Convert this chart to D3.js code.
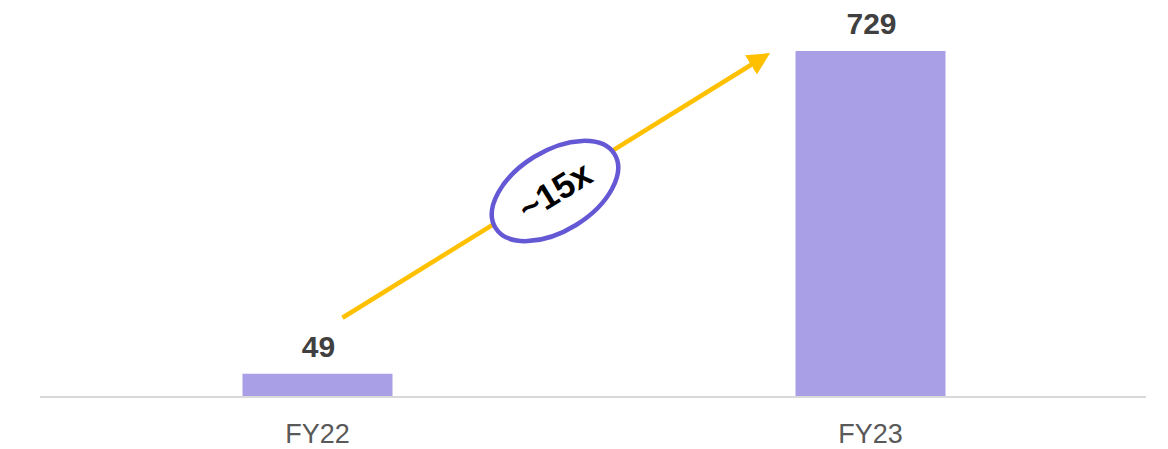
<!doctype html>
<html lang="en">
  <head>
    <meta charset="utf-8">
    <title>FY22 vs FY23</title>
    <script src="https://d3js.org/d3.v7.min.js"></script>
    <style>
      body { margin: 0; background: #fff; }
      text { font-family: "Liberation Sans", Arial, sans-serif; }
    </style>
  </head>
  <body>
    <div id="chart"></div>
    <script type="text/javascript">
    // Data
    var years = ['FY22', 'FY23'];
    var values = [49, 729];
    var growthLabel = '~15x';

    var width = 1168, height = 449;
    var baseline = 397;

    var svg = d3.select('#chart')
        .append('svg')
        .attr('width', width)
        .attr('height', height);

    // Scales
    var scale_x = d3.scalePoint().domain(years).range([41, 1147]).padding(0.5);
    var scale_y = d3.scaleLinear().domain([0, 729]).range([baseline, 51]);
    var barWidth = 150;

    // Bars
    svg.append('g').selectAll('rect')
        .data(years)
        .enter().append('rect')
        .attr('x', function(d) { return scale_x(d) - barWidth / 2; })
        .attr('y', function(d, i) { return scale_y(values[i]); })
        .attr('width', barWidth)
        .attr('height', function(d, i) { return baseline - scale_y(values[i]); })
        .attr('fill', '#a89fe6');

    // Axis line
    svg.append('line')
        .attr('x1', 40).attr('x2', 1146)
        .attr('y1', baseline).attr('y2', baseline)
        .attr('stroke', '#d9d9d9')
        .attr('stroke-width', 2);

    // Category labels
    svg.append('g').selectAll('text')
        .data(years)
        .enter().append('text')
        .attr('x', function(d) { return scale_x(d); })
        .attr('y', 443)
        .attr('text-anchor', 'middle')
        .attr('fill', '#595959')
        .style('font-size', '27px')
        .text(function(d) { return d; });

    // Value labels
    svg.append('g').selectAll('text')
        .data(years)
        .enter().append('text')
        .attr('x', function(d) { return scale_x(d) + 1; })
        .attr('y', function(d, i) { return scale_y(values[i]) - 17; })
        .attr('text-anchor', 'middle')
        .attr('fill', '#404040')
        .style('font-size', '30px')
        .style('font-weight', 'bold')
        .text(function(d, i) { return values[i]; });

    // Growth arrow
    var defs = svg.append('defs');
    defs.append('marker')
        .attr('id', 'arrowhead')
        .attr('viewBox', '0 0 10 10')
        .attr('refX', 5).attr('refY', 5)
        .attr('markerWidth', 5).attr('markerHeight', 5)
        .attr('orient', 'auto')
        .append('path')
        .attr('d', 'M0,0 L10,5 L0,10 z')
        .attr('fill', '#ffc000');

    var x0 = scale_x('FY22') + 25, y0 = scale_y(values[0]) - 56;
    var x1 = scale_x('FY23') - 110, y1 = scale_y(values[1]) + 8;
    svg.append('line')
        .attr('x1', x0).attr('y1', y0)
        .attr('x2', x1).attr('y2', y1)
        .attr('stroke', '#ffc000')
        .attr('stroke-width', 4.5)
        .attr('marker-end', 'url(#arrowhead)');

    var angle = Math.atan2(y1 - y0, x1 - x0) * 180 / Math.PI;
    var bubble = svg.append('g')
        .attr('transform', 'translate(555,191) rotate(' + angle + ')');
    bubble.append('ellipse')
        .attr('rx', 70).attr('ry', 40)
        .attr('fill', '#fff')
        .attr('stroke', '#6458d4')
        .attr('stroke-width', 4.5);
    bubble.append('text')
        .attr('text-anchor', 'middle')
        .attr('y', 12)
        .attr('fill', '#000')
        .style('font-size', '35px')
        .style('font-weight', 'bold')
        .text(growthLabel);
    </script>
  </body>
</html>
